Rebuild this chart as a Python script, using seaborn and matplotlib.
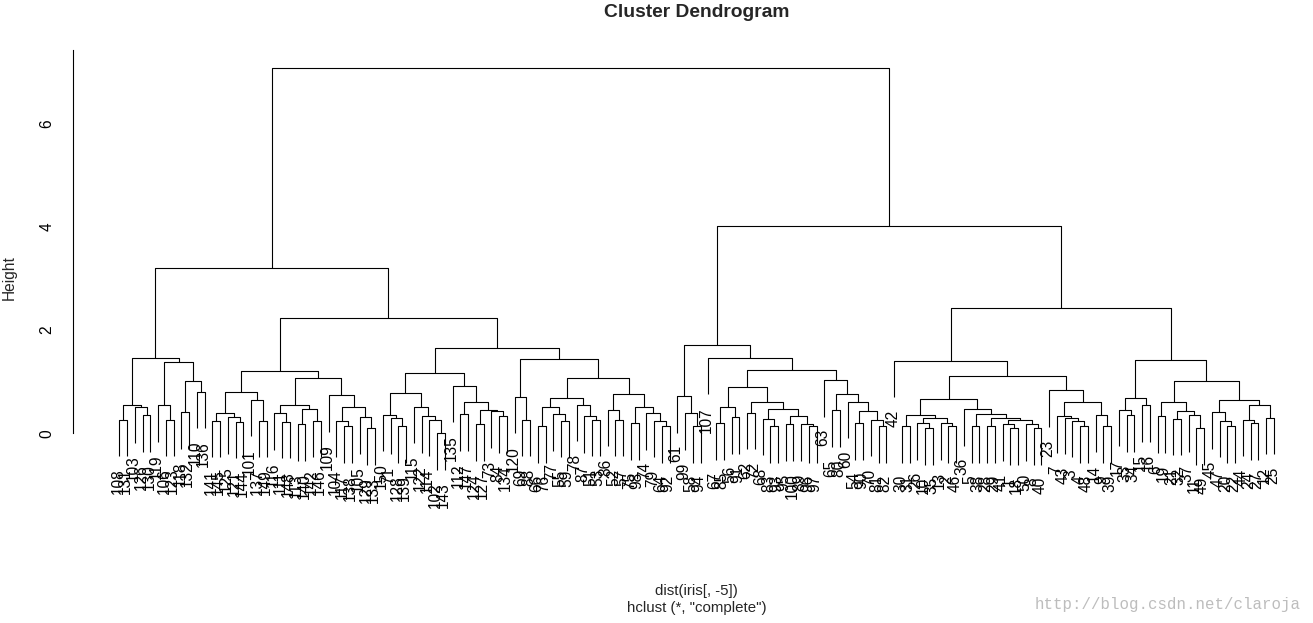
import math
import numpy as np
import pandas as pd
import matplotlib
matplotlib.use("Agg")
import matplotlib.pyplot as plt
import matplotlib.transforms as mtransforms
from matplotlib.collections import LineCollection
import seaborn as sns

# ---------------- data: R's iris (columns 1-4) ----------------
sepal_length = [5.1, 4.9, 4.7, 4.6, 5.0, 5.4, 4.6, 5.0, 4.4, 4.9, 5.4, 4.8, 4.8, 4.3, 5.8, 5.7, 5.4, 5.1, 5.7, 5.1,
                5.4, 5.1, 4.6, 5.1, 4.8, 5.0, 5.0, 5.2, 5.2, 4.7, 4.8, 5.4, 5.2, 5.5, 4.9, 5.0, 5.5, 4.9, 4.4, 5.1,
                5.0, 4.5, 4.4, 5.0, 5.1, 4.8, 5.1, 4.6, 5.3, 5.0,
                7.0, 6.4, 6.9, 5.5, 6.5, 5.7, 6.3, 4.9, 6.6, 5.2, 5.0, 5.9, 6.0, 6.1, 5.6, 6.7, 5.6, 5.8, 6.2, 5.6,
                5.9, 6.1, 6.3, 6.1, 6.4, 6.6, 6.8, 6.7, 6.0, 5.7, 5.5, 5.5, 5.8, 6.0, 5.4, 6.0, 6.7, 6.3, 5.6, 5.5,
                5.5, 6.1, 5.8, 5.0, 5.6, 5.7, 5.7, 6.2, 5.1, 5.7,
                6.3, 5.8, 7.1, 6.3, 6.5, 7.6, 4.9, 7.3, 6.7, 7.2, 6.5, 6.4, 6.8, 5.7, 5.8, 6.4, 6.5, 7.7, 7.7, 6.0,
                6.9, 5.6, 7.7, 6.3, 6.7, 7.2, 6.2, 6.1, 6.4, 7.2, 7.4, 7.9, 6.4, 6.3, 6.1, 7.7, 6.3, 6.4, 6.0, 6.9,
                6.7, 6.9, 5.8, 6.8, 6.7, 6.7, 6.3, 6.5, 6.2, 5.9]
sepal_width = [3.5, 3.0, 3.2, 3.1, 3.6, 3.9, 3.4, 3.4, 2.9, 3.1, 3.7, 3.4, 3.0, 3.0, 4.0, 4.4, 3.9, 3.5, 3.8, 3.8,
               3.4, 3.7, 3.6, 3.3, 3.4, 3.0, 3.4, 3.5, 3.4, 3.2, 3.1, 3.4, 4.1, 4.2, 3.1, 3.2, 3.5, 3.6, 3.0, 3.4,
               3.5, 2.3, 3.2, 3.5, 3.8, 3.0, 3.8, 3.2, 3.7, 3.3,
               3.2, 3.2, 3.1, 2.3, 2.8, 2.8, 3.3, 2.4, 2.9, 2.7, 2.0, 3.0, 2.2, 2.9, 2.9, 3.1, 3.0, 2.7, 2.2, 2.5,
               3.2, 2.8, 2.5, 2.8, 2.9, 3.0, 2.8, 3.0, 2.9, 2.6, 2.4, 2.4, 2.7, 2.7, 3.0, 3.4, 3.1, 2.3, 3.0, 2.5,
               2.6, 3.0, 2.6, 2.3, 2.7, 3.0, 2.9, 2.9, 2.5, 2.8,
               3.3, 2.7, 3.0, 2.9, 3.0, 3.0, 2.5, 2.9, 2.5, 3.6, 3.2, 2.7, 3.0, 2.5, 2.8, 3.2, 3.0, 3.8, 2.6, 2.2,
               3.2, 2.8, 2.8, 2.7, 3.3, 3.2, 2.8, 3.0, 2.8, 3.0, 2.8, 3.8, 2.8, 2.8, 2.6, 3.0, 3.4, 3.1, 3.0, 3.1,
               3.1, 3.1, 2.7, 3.2, 3.3, 3.0, 2.5, 3.0, 3.4, 3.0]
petal_length = [1.4, 1.4, 1.3, 1.5, 1.4, 1.7, 1.4, 1.5, 1.4, 1.5, 1.5, 1.6, 1.4, 1.1, 1.2, 1.5, 1.3, 1.4, 1.7, 1.5,
                1.7, 1.5, 1.0, 1.7, 1.9, 1.6, 1.6, 1.5, 1.4, 1.6, 1.6, 1.5, 1.5, 1.4, 1.5, 1.2, 1.3, 1.4, 1.3, 1.5,
                1.3, 1.3, 1.3, 1.6, 1.9, 1.4, 1.6, 1.4, 1.5, 1.4,
                4.7, 4.5, 4.9, 4.0, 4.6, 4.5, 4.7, 3.3, 4.6, 3.9, 3.5, 4.2, 4.0, 4.7, 3.6, 4.4, 4.5, 4.1, 4.5, 3.9,
                4.8, 4.0, 4.9, 4.7, 4.3, 4.4, 4.8, 5.0, 4.5, 3.5, 3.8, 3.7, 3.9, 5.1, 4.5, 4.5, 4.7, 4.4, 4.1, 4.0,
                4.4, 4.6, 4.0, 3.3, 4.2, 4.2, 4.2, 4.3, 3.0, 4.1,
                6.0, 5.1, 5.9, 5.6, 5.8, 6.6, 4.5, 6.3, 5.8, 6.1, 5.1, 5.3, 5.5, 5.0, 5.1, 5.3, 5.5, 6.7, 6.9, 5.0,
                5.7, 4.9, 6.7, 4.9, 5.7, 6.0, 4.8, 4.9, 5.6, 5.8, 6.1, 6.4, 5.6, 5.1, 5.6, 6.1, 5.6, 5.5, 4.8, 5.4,
                5.6, 5.1, 5.1, 5.9, 5.7, 5.2, 5.0, 5.2, 5.4, 5.1]
petal_width = [0.2, 0.2, 0.2, 0.2, 0.2, 0.4, 0.3, 0.2, 0.2, 0.1, 0.2, 0.2, 0.1, 0.1, 0.2, 0.4, 0.4, 0.3, 0.3, 0.3,
               0.2, 0.4, 0.2, 0.5, 0.2, 0.2, 0.4, 0.2, 0.2, 0.2, 0.2, 0.4, 0.1, 0.2, 0.2, 0.2, 0.2, 0.1, 0.2, 0.2,
               0.3, 0.3, 0.2, 0.6, 0.4, 0.3, 0.2, 0.2, 0.2, 0.2,
               1.4, 1.5, 1.5, 1.3, 1.5, 1.3, 1.6, 1.0, 1.3, 1.4, 1.0, 1.5, 1.0, 1.4, 1.3, 1.4, 1.5, 1.0, 1.5, 1.1,
               1.8, 1.3, 1.5, 1.2, 1.3, 1.4, 1.4, 1.7, 1.5, 1.0, 1.1, 1.0, 1.2, 1.6, 1.5, 1.6, 1.5, 1.3, 1.3, 1.3,
               1.2, 1.4, 1.2, 1.0, 1.3, 1.2, 1.3, 1.3, 1.1, 1.3,
               2.5, 1.9, 2.1, 1.8, 2.2, 2.1, 1.7, 1.8, 1.8, 2.5, 2.0, 1.9, 2.1, 2.0, 2.4, 2.3, 1.8, 2.2, 2.3, 1.5,
               2.3, 2.0, 2.0, 1.8, 2.1, 1.8, 1.8, 1.8, 2.1, 1.6, 1.9, 2.0, 2.2, 1.5, 1.4, 2.3, 2.4, 1.8, 1.8, 2.1,
               2.4, 2.3, 1.9, 2.3, 2.5, 2.3, 1.9, 2.0, 2.3, 1.8]
row_labels = [str(i + 1) for i in range(len(sepal_length))]
y_ticks = [0, 2, 4, 6]

title_text = "Cluster Dendrogram"
xlab_text = "dist(iris[, -5])"
sub_text = 'hclust (*, "complete")'
ylab_text = "Height"
watermark_text = "http://blog.csdn.net/claroja"

iris = pd.DataFrame({"Sepal.Length": sepal_length, "Sepal.Width": sepal_width,
                     "Petal.Length": petal_length, "Petal.Width": petal_width})

# ---------------- dist() exactly like R ----------------
rows = [tuple(float(v) for v in r) for r in iris.to_numpy()]
n = len(rows)
D = [[0.0] * n for _ in range(n)]
for i in range(n):
    a = rows[i]
    for j in range(i + 1, n):
        b = rows[j]
        s = 0.0
        for k in range(4):
            dev = a[k] - b[k]
            s += dev * dev
        D[i][j] = D[j][i] = math.sqrt(s)


# ---------------- R's hclust.f (complete linkage) ----------------
def hclust_complete(diss):
    n = len(diss)
    INF = float("inf")
    flag = [True] * n
    nn = [0] * n
    disnn = [INF] * n
    for i in range(n - 1):
        dmin = INF
        jm = -1
        for j in range(i + 1, n):
            if dmin > diss[i][j]:
                dmin = diss[i][j]
                jm = j
        nn[i] = jm
        disnn[i] = dmin
    ia, ib, crit = [], [], []
    ncl = n
    while ncl > 1:
        dmin = INF
        im = jm = -1
        for i in range(n - 1):
            if flag[i] and disnn[i] < dmin:
                dmin = disnn[i]
                im = i
                jm = nn[i]
        ncl -= 1
        i2, j2 = min(im, jm), max(im, jm)
        ia.append(i2 + 1)
        ib.append(j2 + 1)
        crit.append(dmin)
        flag[j2] = False
        dmin = INF
        jj = -1
        for k in range(n):
            if flag[k] and k != i2:
                nd = max(diss[i2][k], diss[j2][k])
                diss[i2][k] = diss[k][i2] = nd
                if i2 < k and nd < dmin:
                    dmin = nd
                    jj = k
        disnn[i2] = dmin
        nn[i2] = jj
        for i in range(n - 1):
            if flag[i] and (nn[i] == i2 or nn[i] == j2):
                dmin = INF
                for j in range(i + 1, n):
                    if flag[j] and diss[i][j] < dmin:
                        dmin = diss[i][j]
                        jj = j
                nn[i] = jj
                disnn[i] = dmin
    return ia, ib, crit


def hcass2(n, ia, ib):
    iia = list(ia)
    iib = list(ib)
    for i in range(n - 2):
        k = min(ia[i], ib[i])
        for j in range(i + 1, n - 1):
            if ia[j] == k:
                iia[j] = -(i + 1)
            if ib[j] == k:
                iib[j] = -(i + 1)
    iia = [-v for v in iia]
    iib = [-v for v in iib]
    for i in range(n - 1):
        if iia[i] > 0 and iib[i] < 0:
            iia[i], iib[i] = iib[i], iia[i]
        if iia[i] > 0 and iib[i] > 0:
            k1, k2 = min(iia[i], iib[i]), max(iia[i], iib[i])
            iia[i], iib[i] = k1, k2
    iorder = [iia[n - 2], iib[n - 2]]
    for i in range(n - 2, 0, -1):
        j = iorder.index(i)
        iorder[j:j + 1] = [iia[i - 1], iib[i - 1]]
    return iia, iib, [-v for v in iorder]


ia, ib, heights = hclust_complete([row[:] for row in D])
merge_a, merge_b, order = hcass2(n, ia, ib)

# ---------------- figure ----------------
sns.set_theme(style="white")
plt.rcParams["font.family"] = ["Liberation Sans", "DejaVu Sans"]

W, H, DPI = 1313, 623, 100
PX = 72.0 / DPI
fig = plt.figure(figsize=(W / DPI, H / DPI), dpi=DPI, facecolor="white")

ax_left, ax_right, ax_top, ax_bottom = 73.3, 1320.0, 50.0, 540.0
ax = fig.add_axes([ax_left / W, 1 - ax_bottom / H, (ax_right - ax_left) / W, (ax_bottom - ax_top) / H])
ax.set_facecolor("white")

ppu = 51.56  # pixels per height unit
y_top = (433.3 - ax_top) / ppu
y_bot = -(ax_bottom - 433.3) / ppu
ax.set_xlim(1 - 0.04 * (n - 1), n + 0.04 * (n - 1))
ax.set_ylim(y_bot, y_top)

xpos = {obs: p for p, obs in enumerate(order, start=1)}
hang = 0.1 * (max(heights) - min(heights))
node_x = [0.0] * (n - 1)
segments = []
leaves = []
for s in range(n - 1):
    h = heights[s]
    xs, ys = [], []
    for c in (merge_a[s], merge_b[s]):
        if c < 0:
            xc, yc = xpos[-c], h - hang
            leaves.append((xc, yc, row_labels[-c - 1]))
        else:
            xc, yc = node_x[c - 1], heights[c - 1]
        xs.append(xc)
        ys.append(yc)
    segments.append([(xs[0], ys[0]), (xs[0], h), (xs[1], h), (xs[1], ys[1])])
    node_x[s] = 0.5 * (xs[0] + xs[1])

ax.add_collection(LineCollection(segments, colors="black", linewidths=1.1 * PX, clip_on=False))

lab_tr = mtransforms.offset_copy(ax.transData, fig=fig, x=-1.5, y=-12.5, units="dots")
for xc, yc, lab in leaves:
    ax.text(xc, yc, lab, rotation=90, rotation_mode="anchor", ha="right", va="center",
            fontsize=15.5 * PX, color="black", transform=lab_tr, clip_on=False)

# axis
for side in ["top", "right", "bottom"]:
    ax.spines[side].set_visible(False)
ax.spines["left"].set_color("black")
ax.spines["left"].set_linewidth(1.1 * PX)
ax.spines["left"].set_bounds(0, y_top)
ax.set_xticks([])
ax.set_yticks(y_ticks)
ax.set_yticklabels([str(t) for t in y_ticks], rotation=90, va="center", fontsize=15.5 * PX)
ax.tick_params(axis="y", length=9 * PX, width=1.1 * PX, color="black", pad=10 * PX, labelcolor="black")
ax.grid(False)

fig.text(696.6 / W, 1 - 12.5 / H, title_text, ha="center", va="center", fontsize=19.3 * PX, fontweight="bold")
fig.text(696.6 / W, 1 - 591 / H, xlab_text, ha="center", va="center", fontsize=15 * PX)
fig.text(696.6 / W, 1 - 608 / H, sub_text, ha="center", va="center", fontsize=15 * PX)
fig.text(9 / W, 1 - 278 / H, ylab_text, ha="center", va="center", rotation=90, fontsize=15.5 * PX)
fig.text(1301 / W, 1 - 604 / H, watermark_text, ha="right", va="center", fontsize=15.8 * PX,
         color="#bdbdbd", family=["Liberation Mono", "DejaVu Sans Mono"])

fig.savefig("out.png", dpi=DPI, facecolor="white")
